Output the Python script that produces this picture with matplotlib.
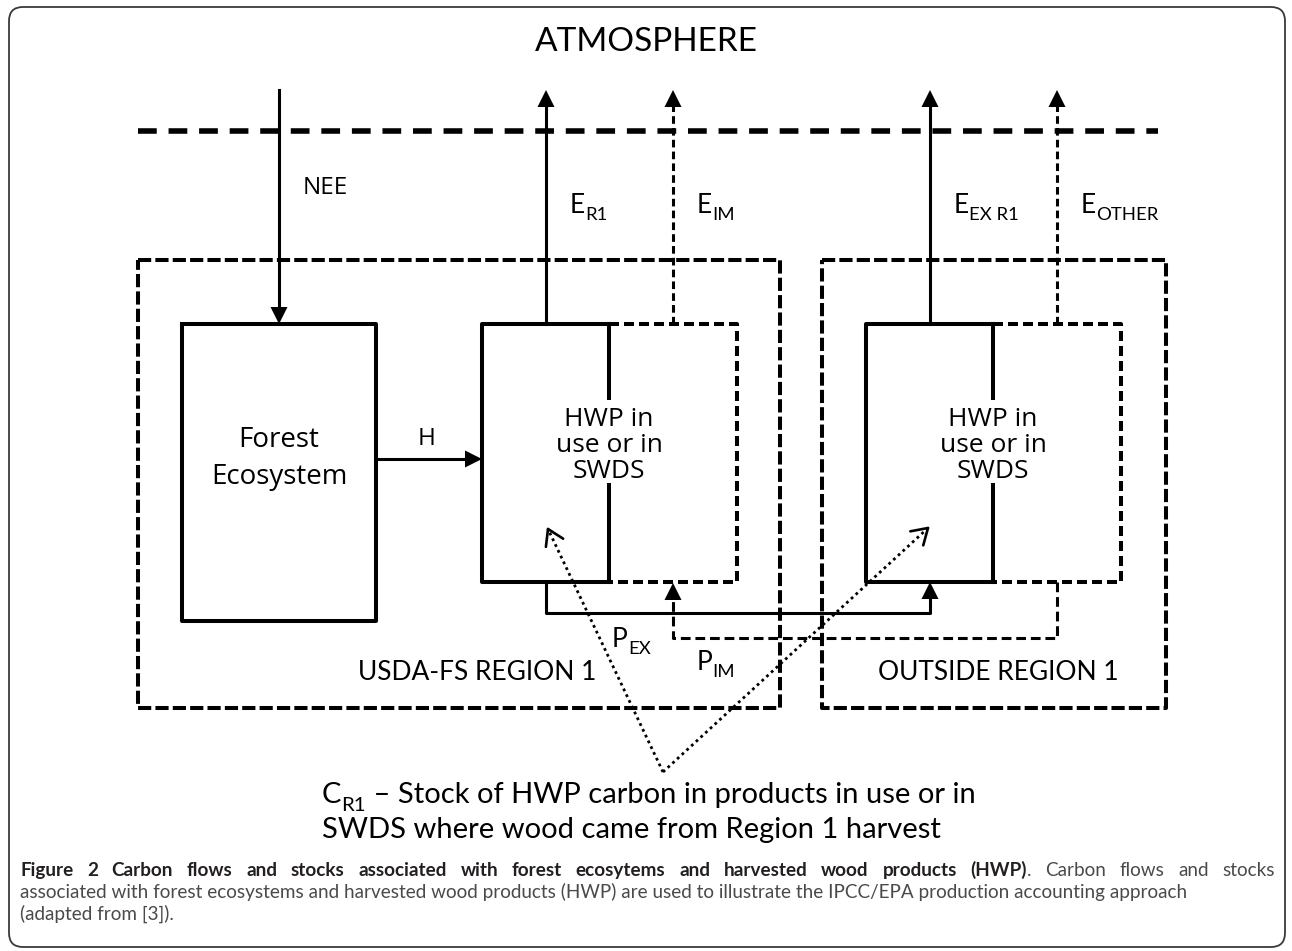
import math
import matplotlib
matplotlib.use("Agg")
import matplotlib.pyplot as plt
from matplotlib.patches import FancyBboxPatch, Polygon

plt.rcParams["lines.scale_dashes"] = False

# ---- texts of the diagram ----
title = "ATMOSPHERE"
flow_labels = ["NEE", "H"]
emission_labels = [("E", "R1"), ("E", "IM"), ("E", "EX R1"), ("E", "OTHER")]
forest_lines = ["Forest", "Ecosystem"]
hwp_lines = ["HWP in", "use or in", "SWDS"]
region_labels = ["USDA-FS REGION 1", "OUTSIDE REGION 1"]
trade_labels = [("P", "EX"), ("P", "IM")]
stock_symbol = ("C", "R1")
stock_lines = [" – Stock of HWP carbon in products in use or in",
               "SWDS where wood came from Region 1 harvest"]
caption_bold = "Figure 2 Carbon flows and stocks associated with forest ecosytems and harvested wood products (HWP)"
caption_line1_rest = ". Carbon flows and stocks"
caption_line2 = ("associated with forest ecosystems and harvested wood products (HWP) "
                 "are used to illustrate the IPCC/EPA production accounting approach")
caption_line3 = "(adapted from [3])."

W, H = 1292, 951
fig = plt.figure(figsize=(W / 100, H / 100), dpi=100)
ax = fig.add_axes([0, 0, 1, 1])
ax.set_xlim(0, W)
ax.set_ylim(H, 0)
ax.axis("off")
renderer = fig.canvas.get_renderer()

SEG = ["Open Sans", "DejaVu Sans"]
CAL = ["Lato", "DejaVu Sans"]
K = "black"


def line(xs, ys, lw=2.2, dash=None):
    if dash is None:
        ax.plot(xs, ys, color=K, lw=lw, solid_capstyle="projecting")
    else:
        ax.plot(xs, ys, color=K, lw=lw, linestyle=(0, dash), dash_capstyle="butt")


def head(x, y, d, size=17):
    h = size / 2
    if d == "up":
        pts = [(x, y), (x - h, y + size), (x + h, y + size)]
    elif d == "down":
        pts = [(x, y), (x - h, y - size), (x + h, y - size)]
    else:
        pts = [(x, y), (x - size, y - h), (x - size, y + h)]
    ax.add_patch(Polygon(pts, closed=True, color=K, lw=0))


def open_head(x0, y0, x1, y1, size=18):
    ang = math.atan2(y1 - y0, x1 - x0)
    for s in (-1, 1):
        a = ang + math.pi + s * math.radians(32)
        ax.plot([x1, x1 + size * math.cos(a)], [y1, y1 + size * math.sin(a)],
                color=K, lw=1.9, solid_capstyle="round")


def width_of(t):
    return t.get_window_extent(renderer).width


def sub_label(x, y, main, sub, size=19, family=CAL):
    t = ax.text(x, y, main, family=family, fontsize=size, ha="left", va="baseline")
    x2 = x + width_of(t)
    s = ax.text(x2, y + 0.26 * size / 0.72, sub, family=family, fontsize=size * 0.7,
                ha="left", va="baseline")
    return x2 + width_of(s)


# outer rounded frame
ax.add_patch(FancyBboxPatch((9, 7), 1276, 940, boxstyle="round,pad=0,rounding_size=14",
                            fc="white", ec="#3a3a3a", lw=1.3))

ax.text(646, 51, title, family=CAL, fontsize=24, ha="center", va="baseline")

# atmosphere boundary
line([138, 1158], [131, 131], lw=4.0, dash=(13.5, 8.5))

# region boxes
for x0, x1 in [(138, 780), (822, 1166)]:
    line([x0, x1, x1, x0, x0], [260, 260, 708, 708, 260], lw=2.9, dash=(9.5, 3.0))

# forest ecosystem box
line([182, 376, 376, 182, 182], [324, 324, 621, 621, 324], lw=2.9)
for i, t in enumerate(forest_lines):
    ax.text(279, 447 + 37 * i, t, family=SEG, fontsize=20, ha="center", va="baseline")

# NEE flow
line([279, 279], [90, 310])
head(279, 324, "down")
ax.text(303, 194, flow_labels[0], family=SEG, fontsize=17.5, ha="left", va="baseline")

# harvest flow
line([376, 468], [459, 459])
head(482, 459, "right")
ax.text(427, 445, flow_labels[1], family=SEG, fontsize=17.5, ha="center", va="baseline")

# HWP boxes
for xl in (482, 866):
    xm, xr = xl + 127, xl + 255
    line([xm, xl, xl, xm], [324, 324, 582, 582], lw=2.9)
    line([xm, xm], [324, 398], lw=2.9)
    line([xm, xm], [485, 582], lw=2.9)
    line([xm, xr, xr, xm], [324, 324, 582, 582], lw=2.9, dash=(7.2, 3.6))
    for i, t in enumerate(hwp_lines):
        ax.text(xm, 426 + 26 * i, t, family=SEG, fontsize=19, ha="center", va="baseline")

# emissions to atmosphere
for xs, solid, lab in [(546, True, 0), (673, False, 1), (930, True, 2), (1057, False, 3)]:
    if solid:
        line([xs, xs], [324, 105])
    else:
        line([xs, xs], [324, 105], lw=2.2, dash=(5.5, 3.0))
    head(xs, 90, "up")
    sub_label(xs + 24, 213, *emission_labels[lab])

# exports (solid) and imports (dashed)
line([546, 546, 930, 930], [582, 613, 613, 598])
head(930, 582, "up")
line([1057, 1057, 673, 673], [582, 638, 638, 598], lw=2.2, dash=(7.0, 3.5))
head(673, 583, "up")
sub_label(612, 647, *trade_labels[0])
sub_label(697, 670, *trade_labels[1])

ax.text(477, 680, region_labels[0], family=CAL, fontsize=19, ha="center", va="baseline")
ax.text(998, 680, region_labels[1], family=CAL, fontsize=19, ha="center", va="baseline")

# dotted pointers to the stock boxes
tip = (663, 772)
for end in [(548, 529), (928, 528)]:
    line([tip[0], end[0]], [tip[1], end[1]], lw=2.0, dash=(2.0, 2.6))
    open_head(tip[0], tip[1], end[0], end[1])

xe = sub_label(322, 803, *stock_symbol, size=21)
ax.text(xe, 803, stock_lines[0], family=CAL, fontsize=21, ha="left", va="baseline")
ax.text(322, 838, stock_lines[1], family=CAL, fontsize=21, ha="left", va="baseline")

# caption
CAP = ["Lato", "DejaVu Sans"]
probe = ax.text(0, 0, caption_line2, family=CAP, fontsize=12)
cap_size = 12 * 1165 / width_of(probe)
probe.remove()

tokens = [[(w, "bold")] for w in caption_bold.split()]
tokens[-1].append((".", "normal"))
tokens += [[(w, "normal")] for w in caption_line1_rest[1:].split()]
widths = []
for tok in tokens:
    wsum = 0
    for s, wt in tok:
        t = ax.text(0, 0, s, family=CAP, fontsize=cap_size, fontweight=wt)
        wsum += width_of(t)
        t.remove()
    widths.append(wsum)
gap = (1275 - 20 - sum(widths)) / (len(tokens) - 1)
x = 20
for tok, wtot in zip(tokens, widths):
    xx = x
    for s, wt in tok:
        t = ax.text(xx, 876, s, family=CAP, fontsize=cap_size, fontweight=wt,
                    color="#231f20" if wt == "bold" else "#4a4a4a", va="baseline")
        xx += width_of(t)
    x += wtot + gap
ax.text(20, 898, caption_line2, family=CAP, fontsize=cap_size, color="#4a4a4a", va="baseline")
ax.text(20, 920, caption_line3, family=CAP, fontsize=cap_size, color="#4a4a4a", va="baseline")

fig.savefig("out.png", dpi=100)
